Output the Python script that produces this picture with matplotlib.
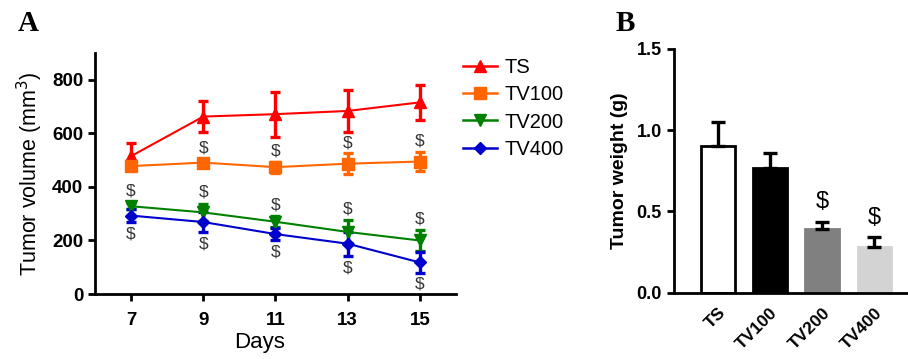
import matplotlib
matplotlib.use("Agg")
import matplotlib.pyplot as plt
from matplotlib.lines import Line2D
import numpy as np

plt.rcParams['font.family'] = ['Liberation Sans', 'DejaVu Sans']

# ---- Panel A data ----
days = [7, 9, 11, 13, 15]
groups = ["TS", "TV100", "TV200", "TV400"]
ts_mean = [515, 663, 672, 684, 716]
ts_err = [50, 57, 84, 78, 66]
tv100_mean = [478, 491, 474, 487, 495]
tv100_err = [16, 15, 20, 39, 37]
tv200_mean = [328, 305, 270, 232, 200]
tv200_err = [12, 32, 20, 43, 38]
tv400_mean = [293, 269, 224, 188, 118]
tv400_err = [25, 37, 23, 45, 38]
# significance marks ($) per group: 1 = shown
tv100_sig = [0, 1, 1, 1, 1]
tv200_sig = [1, 1, 1, 1, 1]
tv400_sig = [1, 1, 1, 1, 1]

# ---- Panel B data ----
bar_labels = ["TS", "TV100", "TV200", "TV400"]
weight_mean = [0.905, 0.766, 0.39, 0.279]
weight_err = [0.144, 0.092, 0.047, 0.062]
weight_sig = [0, 0, 1, 1]

colors = ["#ff0000", "#ff6600", "#008000", "#0000cc"]
markers = ["^", "s", "v", "D"]
msizes = [8.5, 9, 8.5, 6.5]
bar_colors = ["white", "black", "#808080", "#d3d3d3"]

fig = plt.figure(figsize=(9.08, 3.59), dpi=100)

# ---------------- Panel A ----------------
ax = fig.add_axes([0.1046, 0.181, 0.3975, 0.671])
means = [ts_mean, tv100_mean, tv200_mean, tv400_mean]
errs = [ts_err, tv100_err, tv200_err, tv400_err]
handles = []
for g, m, e, c, mk, ms in zip(groups, means, errs, colors, markers, msizes):
    ax.errorbar(days, m, yerr=e, color=c, marker=mk, markersize=ms,
                linewidth=1.5, elinewidth=2.4, capsize=3.9, capthick=2.4,
                clip_on=False)
    handles.append(Line2D([], [], color=c, marker=mk, markersize=ms,
                          linewidth=1.8, label=g))

def put_sig(ax, xs, ys, flags, off, fs):
    for x, y, f in zip(xs, ys, flags):
        if f:
            ax.annotate("$", (x, y), xytext=(0, off), textcoords="offset points",
                        ha="center", va="center", fontsize=fs, color="#333333")

put_sig(ax, days, [m + e for m, e in zip(tv100_mean, tv100_err)], tv100_sig, 7.5, 12.5)
put_sig(ax, days, [m + e for m, e in zip(tv200_mean, tv200_err)], tv200_sig, 8.5, 12.5)
put_sig(ax, days, [m - e for m, e in zip(tv400_mean, tv400_err)], tv400_sig, -8.5, 12.5)

ax.set_xlim(6, 16)
ax.set_ylim(0, 900)
ax.set_xticks(days)
ax.set_yticks([0, 200, 400, 600, 800])
for s in ["top", "right"]:
    ax.spines[s].set_visible(False)
for s in ["left", "bottom"]:
    ax.spines[s].set_linewidth(2)
ax.tick_params(width=2, length=5, labelsize=13.5)
ax.tick_params(axis="x", pad=8)
for lab in ax.get_xticklabels() + ax.get_yticklabels():
    lab.set_fontweight("bold")
ax.set_xlabel("Days", fontsize=16, labelpad=2)
ax.xaxis.label.set_x(0.457)
ax.set_ylabel("Tumor volume (mm$^3$)", fontsize=15.5, labelpad=5)
leg = ax.legend(handles=handles, loc="upper left", bbox_to_anchor=(0.98, 1.04),
                frameon=False, fontsize=14.5, handlelength=1.7,
                handletextpad=0.35, labelspacing=0.42, borderaxespad=0.3)
fig.text(0.02, 0.915, "A", fontsize=21, fontweight="bold", family="Liberation Serif")

# ---------------- Panel B ----------------
bx = fig.add_axes([0.742, 0.1847, 0.258, 0.679])
xpos = np.arange(len(bar_labels))
bx.bar(xpos, weight_mean, width=0.64, color=bar_colors,
       edgecolor=["black", "black", "#808080", "#d3d3d3"], linewidth=2)
bx.errorbar(xpos, weight_mean, yerr=[np.zeros(len(weight_err)), weight_err],
            fmt="none", ecolor="black", elinewidth=2.4, capsize=4.7, capthick=2.4)
for x, m, e, f in zip(xpos, weight_mean, weight_err, weight_sig):
    if f:
        bx.annotate("$", (x, m + e), xytext=(0, 14), textcoords="offset points",
                    ha="center", va="center", fontsize=17)
bx.set_xlim(-0.85, 3.65)
bx.set_ylim(0, 1.5)
bx.set_yticks([0.0, 0.5, 1.0, 1.5])
bx.set_yticklabels(["0.0", "0.5", "1.0", "1.5"])
bx.set_xticks(xpos)
bx.set_xticklabels(bar_labels, rotation=45, ha="right", rotation_mode="anchor")
for s in ["top", "right"]:
    bx.spines[s].set_visible(False)
for s in ["left", "bottom"]:
    bx.spines[s].set_linewidth(2)
bx.tick_params(axis="y", width=2, length=5, labelsize=13)
bx.tick_params(axis="x", length=0, labelsize=12.5, pad=9)
for lab in bx.get_xticklabels() + bx.get_yticklabels():
    lab.set_fontweight("bold")
bx.set_ylabel("Tumor weight (g)", fontsize=14, fontweight="bold", labelpad=6)
fig.text(0.678, 0.915, "B", fontsize=21, fontweight="bold", family="Liberation Serif")

fig.savefig("out.png", dpi=100)
